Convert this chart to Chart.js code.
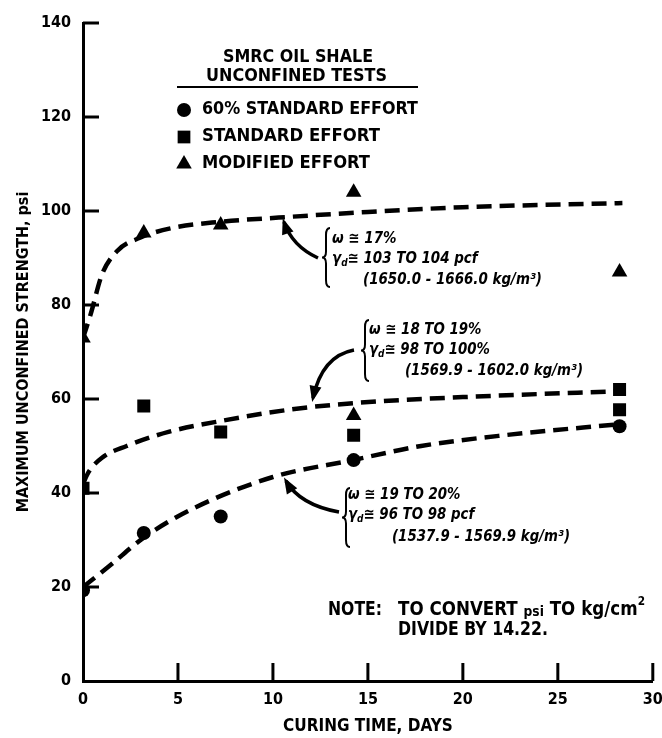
<!DOCTYPE html>
<html>
<head>
<meta charset="utf-8">
<script src="https://cdn.jsdelivr.net/npm/chart.js@4.4.1/dist/chart.umd.min.js"></script>
<style>
  html, body { margin: 0; background: #fff; }
</style>
</head>
<body>
<canvas id="chart" width="662" height="738"></canvas>
<script>
// measured points (curing time in days, strength in psi)
const std60Days = [0, 3.2, 7.25, 14.25, 28.25];
const std60 = [19.3, 31.5, 35, 47, 54.2];
const stdDays = [0, 3.2, 7.25, 14.25, 28.25, 28.25];
const stdEffort = [41, 58.5, 53, 52.3, 62, 57.7];
const modDays = [0, 3.2, 7.25, 14.25, 14.25, 28.25];
const modEffort = [73, 95.3, 97, 104, 56.5, 87];

// dashed fitted curves
const fitModDays = [0, 0.4, 1, 1.8, 3, 4.6, 7.2, 10.3, 15, 20, 28.4];
const fitMod = [73, 78, 86.5, 91.5, 94.3, 96.3, 97.7, 98.6, 99.8, 100.8, 101.7];
const fitStdDays = [0, 0.3, 1, 2.3, 4.5, 7.5, 11, 14.5, 20, 28.4];
const fitStd = [42, 44.5, 47.5, 50, 53, 55.5, 57.8, 59.2, 60.4, 61.7];
const fit60Days = [0, 1.4, 3.2, 5.6, 10, 14.2, 17.8, 22.2, 28.4];
const fit60 = [20, 24.5, 30.5, 36.3, 43.4, 47, 50, 52.3, 54.7];

const xTicks = [0, 5, 10, 15, 20, 25, 30];
const yTicks = [0, 20, 40, 60, 80, 100, 120, 140];

const legendLabels = ["60% STANDARD EFFORT", "STANDARD EFFORT", "MODIFIED EFFORT"];
const legendStyles = ["circle", "rect", "triangle"];

const FONT = '"DejaVu Sans Condensed", "Liberation Sans Narrow", sans-serif';
const B = s => "bold " + s + "px " + FONT;
const BI = s => "italic bold " + s + "px " + FONT;

const pts = (xs, ys) => xs.map((v, i) => ({ x: v, y: ys[i] }));

const markerSet = (label, xs, ys, style, r) => ({
  label: label,
  data: pts(xs, ys),
  showLine: false,
  pointStyle: style,
  pointRadius: r,
  pointHoverRadius: r,
  backgroundColor: "#000",
  borderColor: "#000",
  borderWidth: 0,
});

const curveSet = (xs, ys) => ({
  data: pts(xs, ys),
  showLine: true,
  pointRadius: 0,
  borderColor: "#000",
  borderWidth: 4.5,
  borderDash: [15, 8],
  cubicInterpolationMode: "monotone",
  fill: false,
});

function runWidth(ctx, parts) {
  let total = 0;
  parts.forEach(p => { ctx.font = p[1]; total += ctx.measureText(p[0]).width; });
  return total;
}

// draw a run of text pieces [text, font, dy], scaled horizontally by sx
function runScaled(ctx, parts, x, y, sx) {
  ctx.save();
  ctx.translate(x, y);
  ctx.scale(sx, 1);
  let cx = 0;
  parts.forEach(p => {
    ctx.font = p[1];
    ctx.fillText(p[0], cx, p[2] || 0);
    cx += ctx.measureText(p[0]).width;
  });
  ctx.restore();
}

// same, squeezed/stretched to a given width
function run(ctx, parts, x, y, width) {
  runScaled(ctx, parts, x, y, width / runWidth(ctx, parts));
}

function brace(ctx, x, top, bot) {
  const m = (top + bot) / 2, w = 8;
  ctx.beginPath();
  ctx.moveTo(x + w, top);
  ctx.quadraticCurveTo(x + w / 2, top, x + w / 2, top + 7);
  ctx.lineTo(x + w / 2, m - 6);
  ctx.quadraticCurveTo(x + w / 2, m, x, m);
  ctx.quadraticCurveTo(x + w / 2, m, x + w / 2, m + 6);
  ctx.lineTo(x + w / 2, bot - 7);
  ctx.quadraticCurveTo(x + w / 2, bot, x + w, bot);
  ctx.stroke();
}

function arrow(ctx, tail, ctrl, tip) {
  ctx.beginPath();
  ctx.moveTo(tail[0], tail[1]);
  ctx.quadraticCurveTo(ctrl[0], ctrl[1], tip[0], tip[1]);
  ctx.stroke();
  const a = Math.atan2(tip[1] - ctrl[1], tip[0] - ctrl[0]);
  ctx.beginPath();
  ctx.moveTo(tip[0] + Math.cos(a) * 4, tip[1] + Math.sin(a) * 4);
  ctx.lineTo(tip[0] - Math.cos(a) * 12 + Math.sin(a) * 6, tip[1] - Math.sin(a) * 12 - Math.cos(a) * 6);
  ctx.lineTo(tip[0] - Math.cos(a) * 12 - Math.sin(a) * 6, tip[1] - Math.sin(a) * 12 + Math.cos(a) * 6);
  ctx.closePath();
  ctx.fill();
}

// text block next to a brace: ω line, γd line, metric line (one common scale)
function note(ctx, n) {
  const metric = [[n.m, BI(15)]];
  const sx = n.mw / runWidth(ctx, metric);
  runScaled(ctx, [["\u03C9 \u2245 " + n.w, BI(15)]], n.x, n.y[0], sx);
  runScaled(ctx, [["\u03B3", BI(15)], ["d", BI(10), 4], ["\u2245 " + n.g, BI(15)]], n.x, n.y[1], sx);
  runScaled(ctx, metric, n.mx, n.y[2], sx);
}

const overlay = {
  id: "overlay",
  afterDraw(chart) {
    const { ctx, scales: { x, y } } = chart;
    ctx.save();
    ctx.fillStyle = "#000";
    ctx.strokeStyle = "#000";

    // inward tick marks
    ctx.lineWidth = 3;
    yTicks.slice(1).forEach(v => {
      ctx.beginPath();
      ctx.moveTo(x.getPixelForValue(0), y.getPixelForValue(v));
      ctx.lineTo(x.getPixelForValue(0) + 16, y.getPixelForValue(v));
      ctx.stroke();
    });
    xTicks.slice(1).forEach(v => {
      ctx.beginPath();
      ctx.moveTo(x.getPixelForValue(v), y.getPixelForValue(0));
      ctx.lineTo(x.getPixelForValue(v), y.getPixelForValue(0) - 18);
      ctx.stroke();
    });

    // legend block
    ctx.textBaseline = "middle";
    ctx.textAlign = "left";
    run(ctx, [["SMRC OIL SHALE", B(17)]], 223, 58, 150);
    run(ctx, [["UNCONFINED TESTS", B(17)]], 206, 77, 181);
    ctx.lineWidth = 2;
    ctx.beginPath();
    ctx.moveTo(177, 87);
    ctx.lineTo(418, 87);
    ctx.stroke();
    const rows = [110, 137, 164];
    const radii = [7, 9, 9];
    const widths = [216, 178, 168];
    legendLabels.forEach((t, i) => {
      Chart.helpers.drawPoint(ctx, { pointStyle: legendStyles[i], radius: radii[i], rotation: 0, borderWidth: 0 }, 184, rows[i]);
      run(ctx, [[t, B(17)]], 202, rows[i], widths[i]);
    });

    // annotations
    ctx.lineWidth = 2;
    brace(ctx, 322, 228, 287);
    brace(ctx, 361, 320, 381);
    brace(ctx, 342, 488, 547);
    ctx.lineWidth = 3.5;
    arrow(ctx, [318, 258], [292, 246], [284, 222]);
    arrow(ctx, [354, 350], [322, 356], [313, 398]);
    arrow(ctx, [339, 512], [300, 505], [286, 481]);

    note(ctx, { w: "17%", g: "103 TO 104 pcf", m: "(1650.0 - 1666.0 kg/m\u00B3)",
      x: 332, mx: 363, y: [239, 259, 280], mw: 179 });
    note(ctx, { w: "18 TO 19%", g: "98 TO 100%", m: "(1569.9 - 1602.0 kg/m\u00B3)",
      x: 369, mx: 405, y: [330, 350, 371], mw: 178 });
    note(ctx, { w: "19 TO 20%", g: "96 TO 98 pcf", m: "(1537.9 - 1569.9 kg/m\u00B3)",
      x: 348, mx: 392, y: [495, 515, 537], mw: 178 });

    run(ctx, [["NOTE:", B(19)]], 328, 610, 54);
    run(ctx, [["TO CONVERT ", B(19)], ["psi", B(14), 2], [" TO kg/cm", B(19)], ["2", B(12), -8]], 398, 610, 247);
    run(ctx, [["DIVIDE BY 14.22.", B(19)]], 398, 630, 150);
    ctx.restore();
  },
};

new Chart(document.getElementById("chart"), {
  type: "scatter",
  data: {
    datasets: [
      markerSet(legendLabels[0], std60Days, std60, "circle", 7),
      markerSet(legendLabels[1], stdDays, stdEffort, "rect", 9.2),
      markerSet(legendLabels[2], modDays, modEffort, "triangle", 9),
      curveSet(fitModDays, fitMod),
      curveSet(fitStdDays, fitStd),
      curveSet(fit60Days, fit60),
    ],
  },
  options: {
    responsive: false,
    animation: false,
    layout: { padding: { left: 0, top: 23, right: 8, bottom: 0 } },
    plugins: { legend: { display: false }, tooltip: { enabled: false } },
    scales: {
      x: {
        type: "linear",
        min: 0,
        max: 30,
        afterBuildTicks: s => { s.ticks = xTicks.map(v => ({ value: v })); },
        afterFit: s => { s.height = 57; s.paddingLeft = 0; s.paddingRight = 0; },
        grid: { display: false, drawTicks: false },
        border: { display: true, color: "#000", width: 3 },
        ticks: { color: "#000", padding: 9, font: { family: FONT, size: 16, weight: "bold" } },
        title: {
          display: true,
          text: "CURING TIME, DAYS",
          color: "#000",
          padding: { top: 0, bottom: 1 },
          font: { family: FONT, size: 17, weight: "bold" },
        },
      },
      y: {
        type: "linear",
        min: 0,
        max: 140,
        afterBuildTicks: s => { s.ticks = yTicks.map(v => ({ value: v })); },
        afterFit: s => { s.width = 83; s.paddingTop = 0; s.paddingBottom = 0; },
        grid: { display: false, drawTicks: false },
        border: { display: true, color: "#000", width: 3 },
        ticks: { color: "#000", padding: 12, font: { family: FONT, size: 16, weight: "bold" } },
        title: {
          display: true,
          text: "MAXIMUM UNCONFINED STRENGTH, psi",
          color: "#000",
          padding: { top: 14, bottom: 0 },
          font: { family: FONT, size: 16, weight: "bold" },
        },
      },
    },
  },
  plugins: [overlay],
});
</script>
</body>
</html>
